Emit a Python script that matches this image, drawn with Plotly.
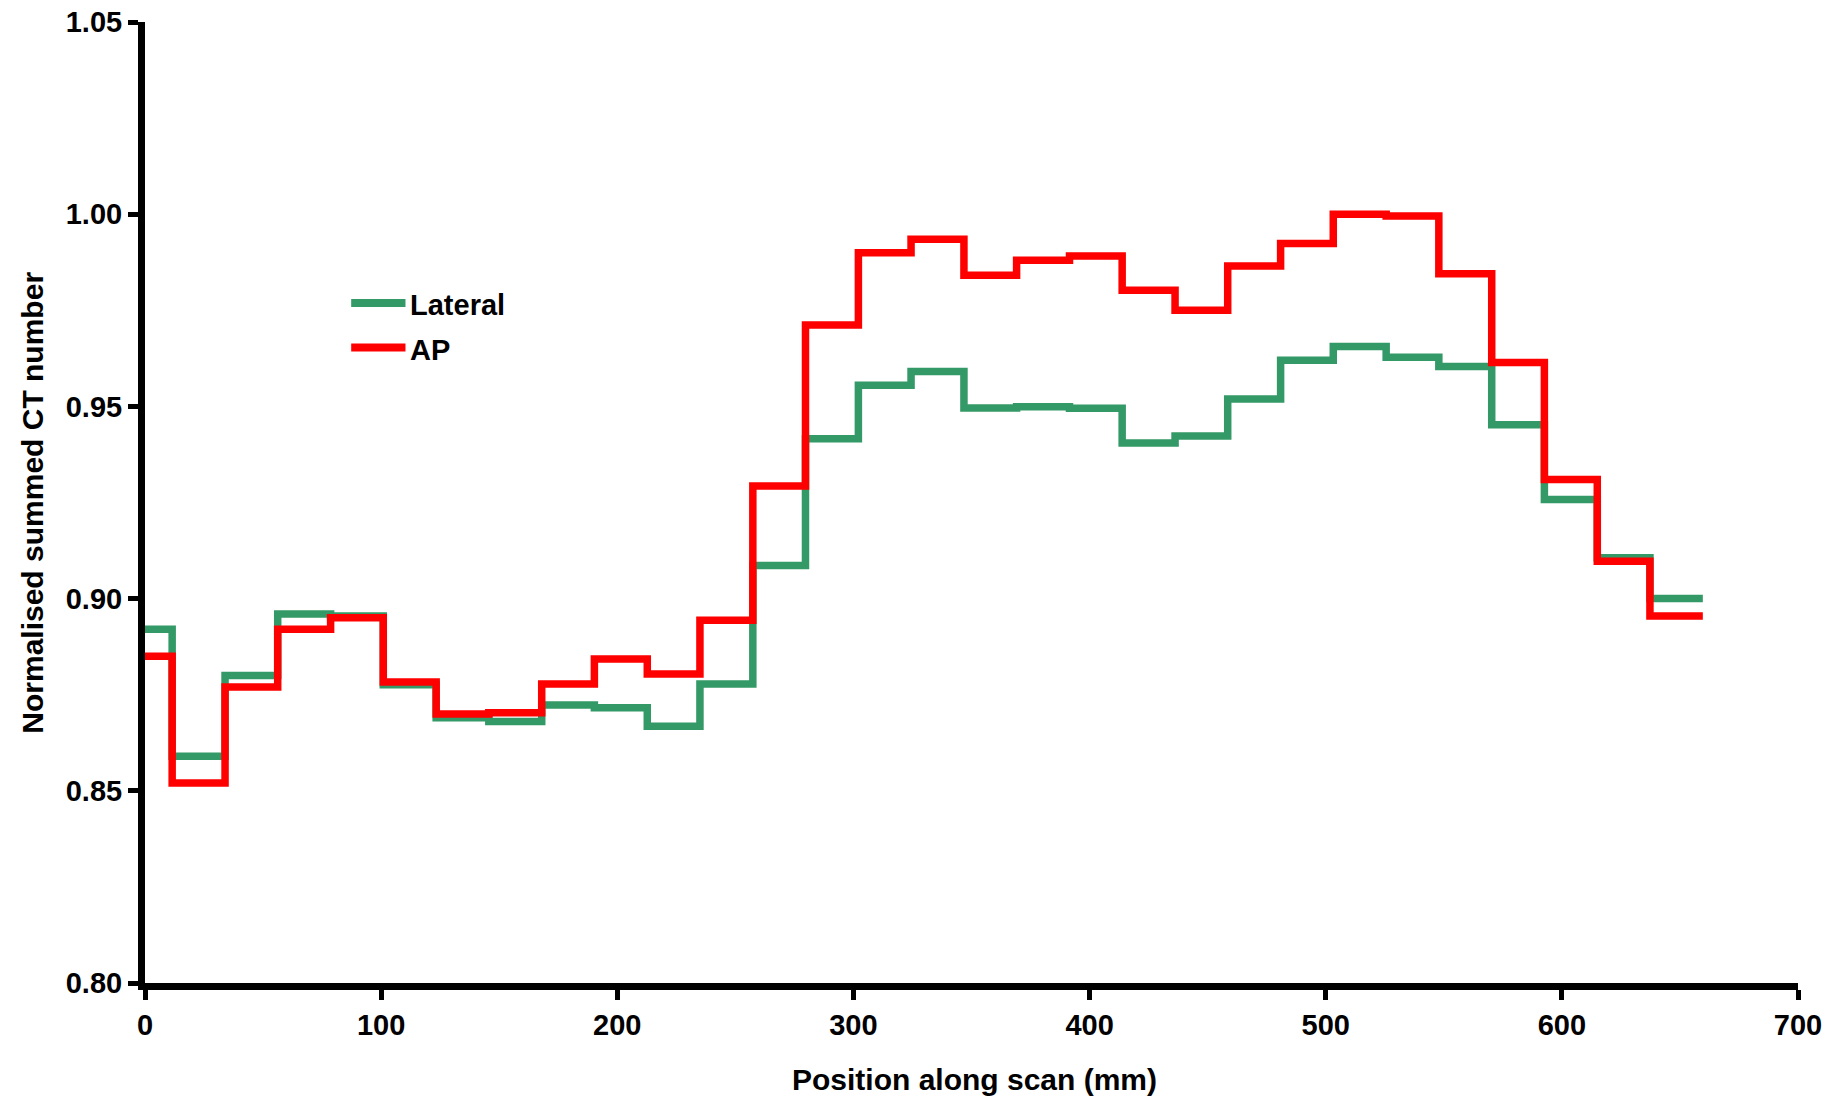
import plotly.graph_objects as go

# Slice boundaries along the scan (mm); each value applies between consecutive edges
position_edges_mm = [0, 11.5, 33.9, 56.2, 78.6, 100.9, 123.3, 145.6, 168.0, 190.3,
                     212.7, 235.0, 257.4, 279.7, 302.1, 324.4, 346.8, 369.1, 391.5,
                     413.8, 436.2, 458.5, 480.9, 503.2, 525.6, 547.9, 570.3, 592.6,
                     615.0, 637.3, 659.7]

lateral = [0.892, 0.859, 0.880, 0.896, 0.8955, 0.8776, 0.869, 0.868, 0.8723, 0.8716,
           0.8668, 0.8778, 0.9086, 0.9416, 0.9555, 0.9591, 0.9496, 0.9499, 0.9495,
           0.9405, 0.9423, 0.9519, 0.9620, 0.9656, 0.9628, 0.9604, 0.9452, 0.9258,
           0.9106, 0.9000]

ap = [0.885, 0.852, 0.877, 0.892, 0.895, 0.8783, 0.870, 0.8703, 0.8778, 0.8843,
      0.8804, 0.8944, 0.9293, 0.9712, 0.9900, 0.9935, 0.9841, 0.9880, 0.9891,
      0.9802, 0.9750, 0.9865, 0.9924, 1.000, 0.9995, 0.9845, 0.9614, 0.9310,
      0.9097, 0.8955]

x_ticks = [0, 100, 200, 300, 400, 500, 600, 700]
y_ticks = [0.80, 0.85, 0.90, 0.95, 1.00, 1.05]

series = [("Lateral", lateral, "#339966"), ("AP", ap, "#ff0000")]

FONT = "Liberation Sans, Arial, sans-serif"
W, H = 1843, 1099
ML, MR, MT, MB = 144.5, 45.4, 21.7, 116.3
PW, PH = W - ML - MR, H - MT - MB


def px_to_paper(px, py):
    return (px - ML) / PW, (H - MB - py) / PH


fig = go.Figure()
for name, vals, color in series:
    # repeat the last value so the final slice is drawn to its closing edge
    fig.add_trace(go.Scatter(
        x=position_edges_mm,
        y=vals + [vals[-1]],
        mode="lines",
        line=dict(color=color, width=7.5, shape="hv"),
        name=name,
        showlegend=False,
    ))

# Hand-drawn legend: short line sample followed by the series name
legend_rows = [(302.7, "Lateral", "#339966"), (347.3, "AP", "#ff0000")]
shapes, annotations = [], []
for py, label, color in legend_rows:
    x0, y0 = px_to_paper(350.7, py)
    x1, _ = px_to_paper(405.0, py)
    shapes.append(dict(type="line", xref="paper", yref="paper",
                       x0=x0, x1=x1, y0=y0, y1=y0,
                       line=dict(color=color, width=8)))
    tx, ty = px_to_paper(408.0, py + 2)
    annotations.append(dict(xref="paper", yref="paper", x=tx, y=ty,
                            text=label, showarrow=False,
                            xanchor="left", yanchor="middle",
                            font=dict(family=FONT, size=29, color="black",
                                      weight="bold")))

# Axis titles
tx, ty = px_to_paper(ML + PW / 2 + 3, 1079)
annotations.append(dict(xref="paper", yref="paper", x=tx, y=ty,
                        text="Position along scan (mm)", showarrow=False,
                        xanchor="center", yanchor="middle",
                        font=dict(family=FONT, size=30, color="black", weight="bold")))
tx, ty = px_to_paper(31.7, MT + PH / 2)
annotations.append(dict(xref="paper", yref="paper", x=tx, y=ty,
                        text="Normalised summed CT number", showarrow=False,
                        textangle=-90, xanchor="center", yanchor="middle",
                        font=dict(family=FONT, size=30, color="black", weight="bold")))

axis_common = dict(
    showline=True, linecolor="black", linewidth=7,
    ticks="outside", ticklen=10, tickwidth=5, tickcolor="black",
    showgrid=False, zeroline=False, automargin=False,
    tickfont=dict(family=FONT, size=29, color="black", weight="bold"),
)

fig.update_layout(
    template="none",
    width=W, height=H,
    margin=dict(l=ML, r=MR, t=MT, b=MB, pad=0, autoexpand=False),
    paper_bgcolor="white", plot_bgcolor="white",
    xaxis=dict(range=[0, 700], tickvals=x_ticks, **axis_common),
    yaxis=dict(range=[0.80, 1.05], tickvals=y_ticks, tickformat=".2f", **axis_common),
    shapes=shapes,
    annotations=annotations,
    showlegend=False,
)

fig.write_html("out.html")
